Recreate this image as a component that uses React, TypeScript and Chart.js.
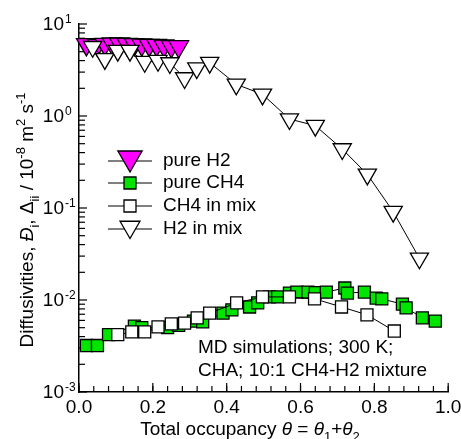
import React, { useEffect, useRef } from 'react';
import { Chart, registerables } from 'chart.js';

Chart.register(...registerables);

// ---- data (θ, diffusivity in 1e-8 m2/s) ----
const pureH2Theta = [0.02, 0.05, 0.07, 0.09, 0.11, 0.13, 0.15, 0.17, 0.19, 0.21, 0.23, 0.25, 0.27];
const pureH2D = [6.0, 5.9, 6.05, 6.1, 6.1, 6.05, 6.0, 5.95, 5.9, 5.9, 5.8, 5.7, 5.7];

const pureCH4Theta = [0.02, 0.05, 0.08, 0.15, 0.17, 0.24, 0.27, 0.31, 0.335, 0.39, 0.414, 0.462, 0.484, 0.516, 0.538, 0.57, 0.59, 0.62, 0.64, 0.67, 0.72, 0.727, 0.773, 0.805, 0.82, 0.876, 0.886, 0.93, 0.965];
const pureCH4D = [0.0032, 0.0032, 0.0042, 0.0052, 0.005, 0.005, 0.0053, 0.0059, 0.0058, 0.0072, 0.0078, 0.0084, 0.0093, 0.0108, 0.0108, 0.0119, 0.0122, 0.0122, 0.012, 0.0122, 0.0135, 0.0119, 0.0122, 0.0105, 0.0103, 0.009, 0.0082, 0.0064, 0.0059];

const ch4MixTheta = [0.105, 0.143, 0.178, 0.214, 0.25, 0.286, 0.32, 0.354, 0.427, 0.497, 0.57, 0.638, 0.711, 0.78, 0.854];
const ch4MixD = [0.0042, 0.0045, 0.0045, 0.0051, 0.0055, 0.0056, 0.0064, 0.0072, 0.0093, 0.0108, 0.0108, 0.0103, 0.0084, 0.0069, 0.0046];

const h2MixTheta = [0.037, 0.07, 0.105, 0.138, 0.178, 0.214, 0.246, 0.286, 0.319, 0.354, 0.426, 0.497, 0.57, 0.64, 0.713, 0.781, 0.851, 0.922];
const h2MixD = [5.66, 4.17, 5.13, 5.13, 3.89, 3.99, 3.77, 2.59, 3.32, 3.8, 2.21, 1.72, 0.927, 0.785, 0.438, 0.232, 0.0912, 0.0284];

const xTickValues = [0, 0.2, 0.4, 0.6, 0.8, 1.0];
const xTickLabels = ['0.0', '0.2', '0.4', '0.6', '0.8', '1.0'];
const xMinorStep = 0.04;
const yTickExponents = [-3, -2, -1, 0, 1];

const legendLabels = ['pure H2', 'pure CH4', 'CH4 in mix', 'H2 in mix'];
const noteLines = ['MD simulations; 300 K;', 'CHA; 10:1 CH4-H2 mixture'];

const FF = '"Liberation Sans", Arial, Helvetica, sans-serif';
const MAGENTA = '#ff00ff';
const GREEN = '#00e400';

type Seg = [string, '' | 'i' | 'sub' | 'sup'];

const yTitle: Seg[] = [
  ['Diffusivities, ', ''], ['Đ', 'i'], ['i', 'sub'], [', ', ''], ['Δ', ''], ['ii', 'sub'],
  [' / 10', ''], ['-8', 'sup'], [' m', ''], ['2', 'sup'], [' s', ''], ['-1', 'sup'],
];
const xTitle: Seg[] = [
  ['Total occupancy ', ''], ['θ', 'i'], [' = ', ''], ['θ', 'i'], ['1', 'sub'], ['+', ''], ['θ', 'i'], ['2', 'sub'],
];

function segFont(st: string, size: number) {
  const small = st === 'sub' || st === 'sup';
  const fs = small ? Math.round(size * 0.66) : size;
  return `${st === 'i' ? 'italic ' : ''}${fs}px ${FF}`;
}
function richWidth(ctx: CanvasRenderingContext2D, segs: Seg[], size: number) {
  let w = 0;
  for (const [t, st] of segs) {
    ctx.font = segFont(st, size);
    w += ctx.measureText(t).width;
  }
  return w;
}
function drawRich(ctx: CanvasRenderingContext2D, segs: Seg[], x: number, y: number, size: number) {
  let cx = x;
  ctx.textAlign = 'left';
  ctx.textBaseline = 'alphabetic';
  for (const [t, st] of segs) {
    ctx.font = segFont(st, size);
    const dy = st === 'sub' ? size * 0.3 : st === 'sup' ? -size * 0.42 : 0;
    ctx.fillText(t, cx, y + dy);
    cx += ctx.measureText(t).width;
  }
}

function triDown(ctx: CanvasRenderingContext2D, cx: number, cy: number, r: number, fill: string) {
  const s = r * Math.sin(Math.PI / 3);
  ctx.beginPath();
  ctx.moveTo(cx, cy + r);
  ctx.lineTo(cx - s, cy - r / 2);
  ctx.lineTo(cx + s, cy - r / 2);
  ctx.closePath();
  ctx.fillStyle = fill;
  ctx.fill();
  ctx.stroke();
}
function square(ctx: CanvasRenderingContext2D, cx: number, cy: number, half: number, fill: string) {
  ctx.beginPath();
  ctx.rect(cx - half, cy - half, half * 2, half * 2);
  ctx.fillStyle = fill;
  ctx.fill();
  ctx.stroke();
}

const decor = {
  id: 'decor',
  beforeDatasetsDraw(chart: any) {
    const { ctx, scales, chartArea: ca } = chart;
    const x = scales.x, y = scales.y;
    ctx.save();
    ctx.strokeStyle = '#000';
    ctx.lineWidth = 1.2;
    const ln = (x1: number, y1: number, x2: number, y2: number) => {
      ctx.beginPath(); ctx.moveTo(x1, y1); ctx.lineTo(x2, y2); ctx.stroke();
    };
    yTickExponents.forEach((k, i) => {
      const p = y.getPixelForValue(Math.pow(10, k));
      ln(ca.left, p, ca.left + 8, p);
      if (i < yTickExponents.length - 1) {
        for (let m = 2; m <= 9; m++) {
          const pm = y.getPixelForValue(m * Math.pow(10, k));
          ln(ca.left, pm, ca.left + 6, pm);
        }
      }
    });
    const nMinor = Math.round((x.max - x.min) / xMinorStep);
    for (let i = 0; i <= nMinor; i++) {
      const v = x.min + i * xMinorStep;
      const px = x.getPixelForValue(v);
      ln(px, ca.bottom, px, ca.bottom - 6);
    }
    xTickValues.forEach((v) => {
      const px = x.getPixelForValue(v);
      ln(px, ca.bottom, px, ca.bottom - 9);
    });
    ctx.restore();
  },
  afterDraw(chart: any) {
    const { ctx, scales, chartArea: ca } = chart;
    const x = scales.x, y = scales.y;
    ctx.save();
    ctx.fillStyle = '#000';
    // y tick labels
    yTickExponents.forEach((k) => {
      const p = y.getPixelForValue(Math.pow(10, k));
      ctx.font = `19px ${FF}`;
      ctx.textAlign = 'right';
      ctx.textBaseline = 'middle';
      ctx.fillText('10', ca.left - 15, p + 1);
      ctx.font = `12px ${FF}`;
      ctx.textAlign = 'left';
      ctx.fillText(String(k), ca.left - 14, p - 4);
    });
    // x tick labels
    ctx.font = `19px ${FF}`;
    ctx.textAlign = 'center';
    ctx.textBaseline = 'middle';
    xTickValues.forEach((v, i) => {
      ctx.fillText(xTickLabels[i], x.getPixelForValue(v), ca.bottom + 16);
    });
    // x title
    const xw = richWidth(ctx, xTitle, 19);
    drawRich(ctx, xTitle, 250 - xw / 2, 435, 19);
    // y title
    const yw = richWidth(ctx, yTitle, 19);
    ctx.save();
    ctx.translate(33, 220);
    ctx.rotate(-Math.PI / 2);
    drawRich(ctx, yTitle, -yw / 2, 0, 19);
    ctx.restore();
    // legend
    const rows = [161, 183, 206, 229];
    ctx.strokeStyle = '#000';
    rows.forEach((ry, i) => {
      ctx.lineWidth = 1;
      ctx.beginPath(); ctx.moveTo(108, ry); ctx.lineTo(152, ry); ctx.stroke();
      ctx.lineWidth = 1.3;
      if (i === 0) triDown(ctx, 130, ry - 3, 14, MAGENTA);
      else if (i === 1) square(ctx, 130, ry, 6, GREEN);
      else if (i === 2) square(ctx, 130, ry, 6, '#fff');
      else triDown(ctx, 130, ry - 2, 11.5, '#fff');
      ctx.fillStyle = '#000';
      ctx.font = `19px ${FF}`;
      ctx.textAlign = 'left';
      ctx.textBaseline = 'middle';
      ctx.fillText(legendLabels[i], 163, ry);
    });
    // note
    ctx.font = `19px ${FF}`;
    ctx.textAlign = 'left';
    ctx.textBaseline = 'middle';
    ctx.fillText(noteLines[0], 198, 348);
    ctx.fillText(noteLines[1], 198, 371);
    ctx.restore();
  },
};

function pts(xs: number[], ys: number[]) {
  return xs.map((v, i) => ({ x: v, y: ys[i] }));
}

export default function App() {
  const ref = useRef<HTMLCanvasElement | null>(null);
  useEffect(() => {
    if (!ref.current) return;
    const common = {
      showLine: true,
      borderColor: '#000',
      borderWidth: 1,
      pointBorderColor: '#000',
      pointBorderWidth: 1.3,
      clip: false as any,
    };
    const chart = new Chart(ref.current, {
      type: 'scatter',
      data: {
        datasets: [
          {
            ...common, label: 'H2 in mix', data: pts(h2MixTheta, h2MixD), order: 0,
            pointStyle: 'triangle', rotation: 180, pointRadius: 10.5, pointBackgroundColor: '#fff',
          },
          {
            ...common, label: 'CH4 in mix', data: pts(ch4MixTheta, ch4MixD), order: 1,
            pointStyle: 'rect', pointRadius: 8.5, pointBackgroundColor: '#fff',
          },
          {
            ...common, label: 'pure CH4', data: pts(pureCH4Theta, pureCH4D), order: 2,
            pointStyle: 'rect', pointRadius: 8.5, pointBackgroundColor: GREEN,
          },
          {
            ...common, label: 'pure H2', data: pts(pureH2Theta, pureH2D), order: 3,
            pointStyle: 'triangle', rotation: 180, pointRadius: 11.5, pointBackgroundColor: MAGENTA,
          },
        ] as any,
      },
      options: {
        animation: false,
        responsive: false,
        maintainAspectRatio: false,
        layout: { padding: { top: 24, right: 12, left: 0, bottom: 0 } },
        plugins: { legend: { display: false }, tooltip: { enabled: false }, title: { display: false } },
        events: [],
        scales: {
          x: {
            type: 'linear', min: 0, max: 1,
            grid: { display: false },
            border: { display: true, color: '#000', width: 1.5 },
            ticks: { display: false },
            afterFit: (s: any) => { s.height = 47; },
          },
          y: {
            type: 'logarithmic', min: 0.001, max: 10,
            grid: { display: false },
            border: { display: true, color: '#000', width: 1.5 },
            ticks: { display: false },
            afterFit: (s: any) => { s.width = 79; },
          },
        },
      } as any,
      plugins: [decor],
    });
    return () => chart.destroy();
  }, []);
  return (
    <div style={{ position: 'fixed', left: 0, top: 0, width: 461, height: 439, background: '#fff' }}>
      <canvas ref={ref} width={461} height={439} style={{ display: 'block', width: 461, height: 439 }} />
    </div>
  );
}
